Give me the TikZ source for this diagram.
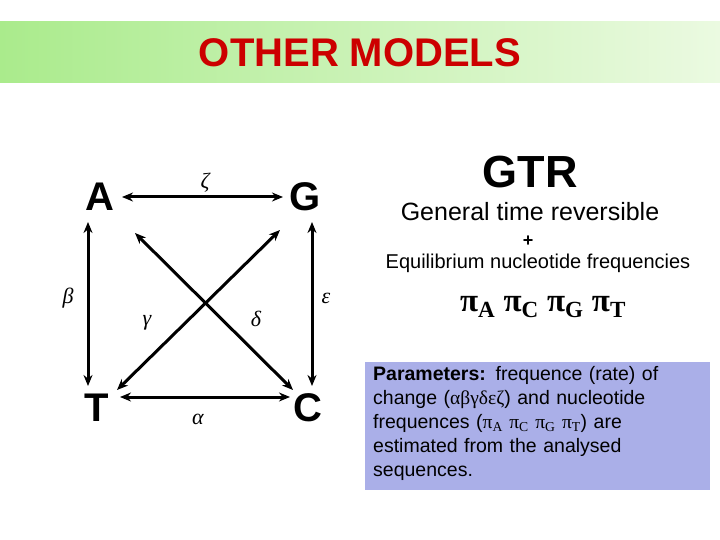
\documentclass[tikz,border=0pt]{standalone}
\usepackage{fontspec}
\setmainfont{Liberation Sans}
\newfontfamily\serifgr{Liberation Serif}
\usetikzlibrary{arrows.meta}
\definecolor{titlered}{RGB}{204,0,0}
\definecolor{hdrL}{RGB}{170,235,140}
\definecolor{hdrR}{RGB}{235,250,225}
\definecolor{boxfill}{RGB}{170,175,232}
\tikzset{
  nuc/.style={font=\bfseries\fontsize{40}{42}\selectfont, inner sep=0pt},
  lab/.style={font=\serifgr\itshape\fontsize{22}{24}\selectfont, inner sep=0pt},
  conn/.style={line width=3pt, {Stealth[length=11pt,width=9pt]}-{Stealth[length=11pt,width=9pt]}},
}
\begin{document}
\begin{tikzpicture}[x=1pt,y=-1pt]
\useasboundingbox (0,0) rectangle (720,540);
\fill[white] (0,0) rectangle (720,540);
\shade[left color=hdrL, right color=hdrR] (0,22) rectangle (720,83);
\node[text=titlered, font=\bfseries\fontsize{40}{44}\selectfont] (title) at (360,53) {OTHER MODELS};
% nucleotides
\node[nuc] (A) at (100,197) {A};
\node[nuc] (G) at (305,197) {G};
\node[nuc] (T) at (97,408) {T};
\node[nuc] (C) at (308,408) {C};
\coordinate (a1) at (122,197); \coordinate (g1) at (283,197);
\coordinate (a2) at (88,222); \coordinate (t2) at (88,386);
\coordinate (g2) at (312,222); \coordinate (c2) at (312,386);
\coordinate (t1) at (120,397); \coordinate (c1) at (290,397);
\coordinate (a3) at (135,233); \coordinate (c3) at (293,390);
\coordinate (g3) at (280,230); \coordinate (t3) at (117,390);
\draw[conn] (a1) -- (g1);
\draw[conn] (a2) -- (t2);
\draw[conn] (g2) -- (c2);
\draw[conn] (t1) -- (c1);
\draw[conn] (a3) -- (c3);
\draw[conn] (g3) -- (t3);
\node[lab] (zeta) at (205,183) {ζ};
\node[lab] (alpha) at (198,419) {α};
\node[lab] (beta) at (68,298) {β};
\node[lab] (gamma) at (147,323) {γ};
\node[lab] (delta) at (256,319) {δ};
\node[lab] (eps) at (326,298) {ε};
% right side
\node[font=\bfseries\fontsize{45}{48}\selectfont] (gtr) at (530,172) {GTR};
\node[font=\fontsize{25}{28}\selectfont] (gen) at (530,212) {General time reversible};
\node[font=\bfseries\fontsize{18}{20}\selectfont] (plus) at (528,241) {+};
\node[font=\fontsize{20}{22}\selectfont] (eq) at (538,263) {Equilibrium nucleotide frequencies};
\node[font=\serifgr\bfseries\fontsize{33}{35}\selectfont] (pis) at (543,307) {π\textsubscript{A} π\textsubscript{C} π\textsubscript{G} π\textsubscript{T}};
\node[fill=boxfill, minimum width=345, minimum height=128, anchor=north west, inner sep=0pt] (box) at (365,362) {};
\node[anchor=north west, align=left, text width=340, font=\fontsize{19.5}{24}\selectfont, inner sep=0pt] (ptext) at (373,366)
{\textbf{Parameters:} frequence (rate) of\\ change ({\serifgr αβγδεζ}) and nucleotide\\ frequences ({\serifgr π\textsubscript{A} π\textsubscript{C} π\textsubscript{G}} {\serifgr π\textsubscript{T}}) are\\ estimated from the analysed\\ sequences.};
\end{tikzpicture}
\end{document}
